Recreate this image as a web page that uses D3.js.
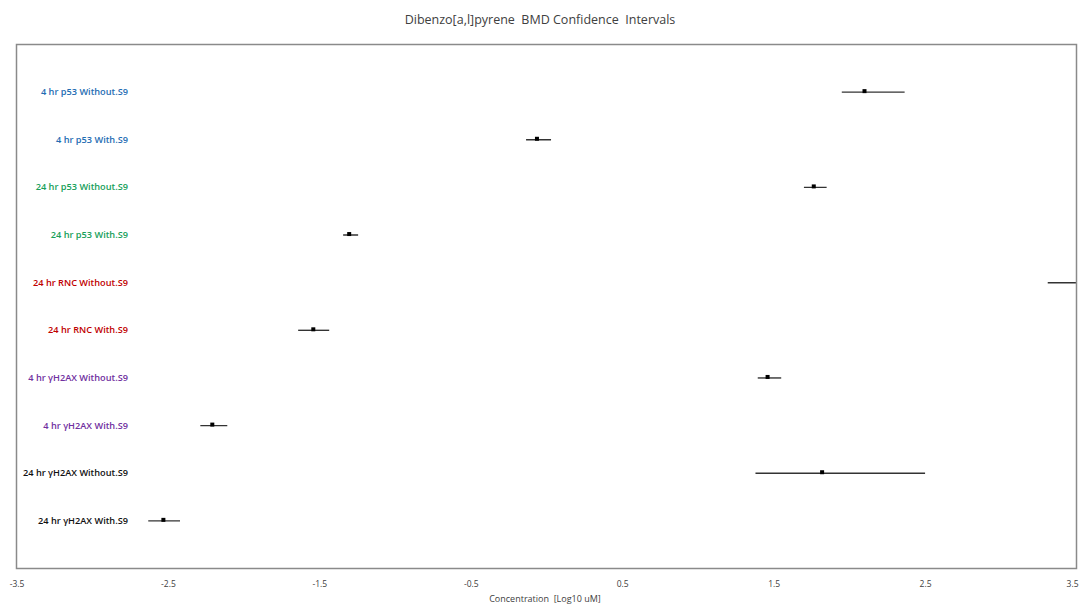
<!DOCTYPE html>
<html><head><meta charset="utf-8">
<script src="https://cdn.jsdelivr.net/npm/d3@7"></script>
<style>body{margin:0;background:#fff;}svg{display:block;}text{white-space:pre;}</style>
</head><body>
<svg id="chart" width="1079" height="604"></svg>
<script>
const categories = ["4 hr p53 Without.S9","4 hr p53 With.S9","24 hr p53 Without.S9","24 hr p53 With.S9","24 hr RNC Without.S9","24 hr RNC With.S9","4 hr \u03b3H2AX Without.S9","4 hr \u03b3H2AX With.S9","24 hr \u03b3H2AX Without.S9","24 hr \u03b3H2AX With.S9"];
const bmd   = [2.10, -0.063, 1.765, -1.303, 3.80, -1.54, 1.46, -2.207, 1.82, -2.53];
const lower = [1.95, -0.135, 1.70, -1.343, 3.31, -1.64, 1.395, -2.286, 1.38, -2.63];
const upper = [2.365, 0.03, 1.85, -1.244, 4.30, -1.435, 1.55, -2.108, 2.50, -2.42];
const groups = ["p53_4","p53_4","p53_24","p53_24","rnc","rnc","h2ax_4","h2ax_4","h2ax_24","h2ax_24"];
const groupColors = {p53_4:"#1f6db3", p53_24:"#17a05a", rnc:"#c00000", h2ax_4:"#7030a0", h2ax_24:"#111111"};
const xTicks = [-3.5,-2.5,-1.5,-0.5,0.5,1.5,2.5,3.5];
const tickLabels = ["-3.5","-2.5","-1.5","-0.5","0.5","1.5","2.5","3.5"];

const svg = d3.select("#chart");
const L = 16.5, R = 1076.5, T = 44.5, B = 568.5;
const x = d3.scaleLinear().domain([-3.5, 3.5]).range([L, R]);
const y = d3.scalePoint().domain(categories).range([T, B]).padding(1);

svg.append("text").attr("x", 540).attr("y", 24).attr("text-anchor","middle")
  .attr("font-family","Open Sans, sans-serif").attr("font-size", 12.5).attr("fill","#404040")
  .text("Dibenzo[a,l]pyrene  BMD Confidence  Intervals");

svg.append("defs").append("clipPath").attr("id","clip")
  .append("rect").attr("x", L).attr("y", T).attr("width", R-L).attr("height", B-T);

const plot = svg.append("g").attr("clip-path","url(#clip)");
const data = categories.map((c,i)=>({c, b:bmd[i], lo:lower[i], hi:upper[i], g:groups[i]}));

plot.selectAll("line.ci").data(data).enter().append("line").attr("class","ci")
  .attr("x1", d=>x(d.lo)).attr("x2", d=>x(d.hi))
  .attr("y1", d=>y(d.c)).attr("y2", d=>y(d.c))
  .attr("stroke","#333").attr("stroke-width",1.4);

plot.selectAll("rect.pt").data(data).enter().append("rect").attr("class","pt")
  .attr("x", d=>x(d.b)-2).attr("y", d=>y(d.c)-3).attr("width",4).attr("height",4)
  .attr("fill","#000");

// frame
svg.append("rect").attr("x", L).attr("y", T).attr("width", R-L).attr("height", B-T)
  .attr("fill","none").attr("stroke","#8a8a8a").attr("stroke-width",1.5);

// category labels
svg.selectAll("text.cat").data(data).enter().append("text").attr("class","cat")
  .attr("x", 128).attr("y", d=>y(d.c)+3).attr("text-anchor","end")
  .attr("font-family","Open Sans, sans-serif").attr("font-weight",600).attr("font-size",9.2)
  .attr("fill", d=>groupColors[d.g]).text(d=>d.c);

// x axis tick labels
const xAxis = d3.axisBottom(x).tickValues(xTicks).tickSize(0).tickFormat((d,i)=>tickLabels[i]);
const ax = svg.append("g").attr("transform",`translate(0,${B+9})`).call(xAxis);
ax.select(".domain").remove();
ax.selectAll("text").attr("font-family","Open Sans, sans-serif").attr("font-size",8.5).attr("fill","#404040")
  .filter((d,i)=>i===xTicks.length-1).attr("text-anchor","end").attr("dx", 1.5);

svg.append("text").attr("x", 545).attr("y", 602).attr("text-anchor","middle")
  .attr("font-family","Open Sans, sans-serif").attr("font-size",9).attr("fill","#404040")
  .text("Concentration  [Log10 uM]");
</script>
</body></html>
